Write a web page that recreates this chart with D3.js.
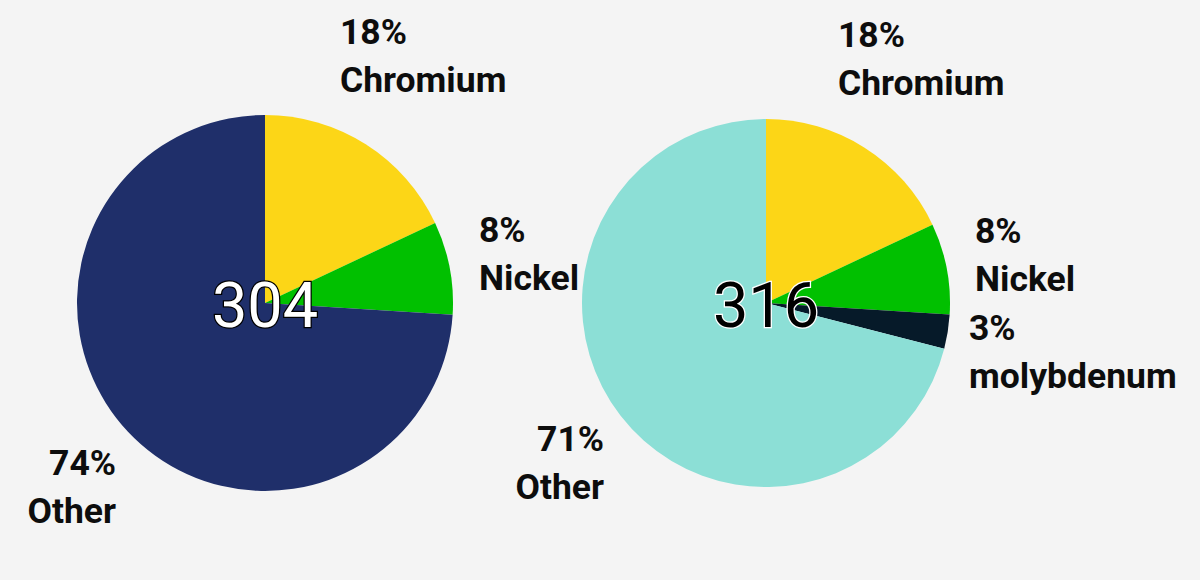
<!DOCTYPE html>
<html>
<head>
<meta charset="utf-8">
<script src="https://cdn.jsdelivr.net/npm/d3@7"></script>
<style>
  body { margin: 0; background: #f4f4f4; }
  svg { display: block; }
  .lbl { font-family: Roboto, sans-serif; font-weight: 700; font-size: 35.5px; fill: #0d0d0d; }
  .grade { font-family: Roboto, sans-serif; font-weight: 400; font-size: 63px; stroke-width: 2.5px; paint-order: stroke; }
</style>
</head>
<body>
<div id="chart"></div>
<script>
// grade 304
const elements304 = ["Chromium", "Nickel", "Other"];
const values304 = [18, 8, 74];
const colors304 = ["#fcd617", "#01c000", "#1f2f6a"];

// grade 316
const elements316 = ["Chromium", "Nickel", "molybdenum", "Other"];
const values316 = [18, 8, 3, 71];
const colors316 = ["#fcd617", "#01c000", "#061a29", "#8cdfd6"];

const width = 1200, height = 580;

const svg = d3.select("#chart").append("svg")
    .attr("width", width)
    .attr("height", height);

svg.append("rect").attr("width", width).attr("height", height).attr("fill", "#f4f4f4");

// label placement for each slice: [x, y of first line, anchor]
const labelPos304 = [[340, 44, "start"], [479, 242, "start"], [116, 475, "end"]];
const labelPos316 = [[838, 47, "start"], [975, 243, "start"], [969, 340, "start"], [604, 451, "end"]];

function drawPie(cx, cy, r, names, values, colors, labelPos, grade, gradeFill, gradeStroke) {
    const pie = d3.pie().sort(null)(values);
    const arc = d3.arc().innerRadius(0).outerRadius(r);
    const g = svg.append("g").attr("transform", `translate(${cx},${cy})`);

    g.selectAll("path")
        .data(pie)
        .enter()
        .append("path")
        .attr("d", arc)
        .attr("fill", (d, i) => colors[i]);

    g.append("text")
        .attr("class", "grade")
        .attr("text-anchor", "middle")
        .attr("y", 24)
        .attr("fill", gradeFill)
        .attr("stroke", gradeStroke)
        .text(grade);

    names.forEach((name, i) => {
        const [x, y, anchor] = labelPos[i];
        const t = svg.append("text")
            .attr("class", "lbl")
            .attr("text-anchor", anchor);
        t.append("tspan").attr("x", x).attr("y", y).text(values[i] + "%");
        t.append("tspan").attr("x", x).attr("y", y + 48).text(name);
    });
}

drawPie(265, 303, 188, elements304, values304, colors304, labelPos304, "304", "#ffffff", "#000000");
drawPie(766, 303, 184, elements316, values316, colors316, labelPos316, "316", "#000000", "#ffffff");
</script>
</body>
</html>
